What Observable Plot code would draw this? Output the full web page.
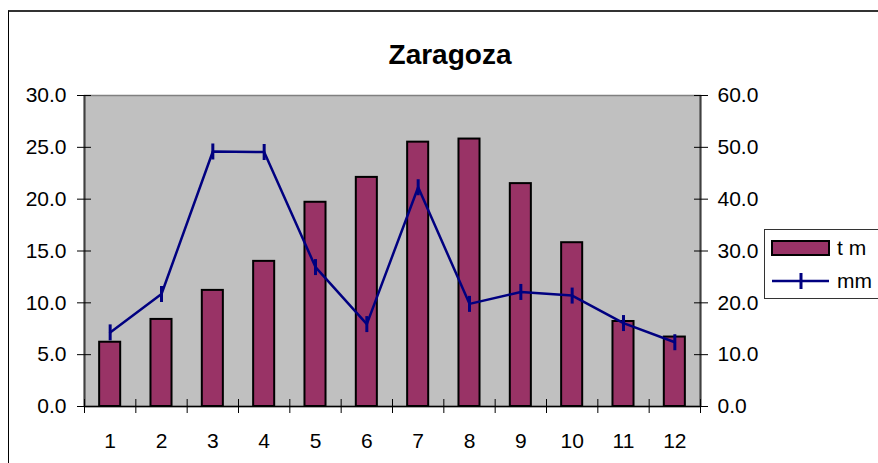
<!DOCTYPE html>
<html>
<head>
<meta charset="utf-8">
<script src="https://cdn.jsdelivr.net/npm/d3@7"></script>
<script src="https://cdn.jsdelivr.net/npm/@observablehq/plot@0.6"></script>
<style>
  html, body { margin: 0; padding: 0; background: #fff; }
  #wrap { position: relative; width: 878px; height: 463px; overflow: hidden; font-family: "Liberation Sans", Arial, sans-serif; }
  #outer { position: absolute; left: 8px; top: 10px; width: 900px; height: 500px; border-left: 1px solid #000; border-top: 2px solid #333; box-sizing: border-box; }
  #title { position: absolute; left: 0; width: 900px; top: 41px; text-align: center; font-size: 28px; font-weight: bold; line-height: 1; color: #000; }
  #chart { position: absolute; left: 0; top: 0; }
  #legend { position: absolute; left: 764px; top: 229px; width: 140px; height: 70px; border: 1px solid #333; background: #fff; box-sizing: border-box; }
  .item { position: absolute; left: 6px; height: 20px; display: flex; align-items: center; font-size: 21px; color: #000; }
  .item svg { margin-right: 6px; }
</style>
</head>
<body>
<div id="wrap">
  <div id="outer"></div>
  <div id="chart"></div>
  <div id="title">Zaragoza</div>
  <div id="legend"></div>
</div>
<script>
const months = [1, 2, 3, 4, 5, 6, 7, 8, 9, 10, 11, 12];
const tempC = [6.2, 8.4, 11.2, 14.0, 19.7, 22.1, 25.5, 25.8, 21.5, 15.8, 8.2, 6.7];
const precipMM = [14.3, 21.7, 49.2, 49.1, 26.9, 15.9, 42.3, 19.8, 22.1, 21.4, 16.1, 12.4];
const leftTicks = [0, 5, 10, 15, 20, 25, 30];
const rightTicks = [0, 10, 20, 30, 40, 50, 60];
const seriesNames = ["t m", "mm"];

const barColor = "#993366";
const lineColor = "#000080";
const ratio = 2; // right axis (mm) = 2 x left axis

const rows = months.map((m, i) => ({m, t: tempC[i], p: precipMM[i]}));
const bounds = d3.range(months[0] - 0.5, months[months.length - 1] + 0.51, 1);
const halfBar = 0.205;

const tickSymbol = {
  draw(context) {
    context.moveTo(0, -8);
    context.lineTo(0, 8);
  }
};

const chart = Plot.plot({
  width: 878,
  height: 463,
  marginLeft: 84,
  marginRight: 178,
  marginTop: 95,
  marginBottom: 57,
  style: {fontFamily: "Liberation Sans, Arial, sans-serif", fontSize: "21px", background: "transparent", color: "#000"},
  x: {type: "linear", domain: [0.5, 12.5], axis: null},
  y: {domain: [0, 30], axis: null},
  marks: [
    Plot.frame({fill: "#C0C0C0", stroke: "#808080", strokeWidth: 1.5}),
    Plot.rect(rows, {x1: d => d.m - halfBar, x2: d => d.m + halfBar, y1: 0, y2: "t", fill: barColor, stroke: "#000", strokeWidth: 2}),
    Plot.line(rows, {x: "m", y: d => d.p / ratio, stroke: lineColor, strokeWidth: 2.5}),
    Plot.dot(rows, {x: "m", y: d => d.p / ratio, symbol: tickSymbol, stroke: lineColor, strokeWidth: 3, fill: "none"}),
    Plot.ruleY([0], {stroke: "#000", strokeWidth: 1.5}),
    Plot.ruleX([0.5], {stroke: "#404040", strokeWidth: 2}),
    Plot.ruleX([12.5], {stroke: "#404040", strokeWidth: 2}),
    // left axis
    Plot.axisY({ticks: leftTicks, anchor: "left", tickSize: 14, dx: 7, tickFormat: () => "", label: null, stroke: "#000"}),
    Plot.axisY({ticks: leftTicks, anchor: "left", tickSize: 0, tickPadding: 18, tickFormat: d => d.toFixed(1), label: null}),
    // right axis (mm)
    Plot.axisY({ticks: rightTicks.map(v => v / ratio), anchor: "right", tickSize: 14, dx: -7, tickFormat: () => "", label: null, stroke: "#000"}),
    Plot.axisY({ticks: rightTicks.map(v => v / ratio), anchor: "right", tickSize: 0, tickPadding: 17, tickFormat: d => (d * ratio).toFixed(1), label: null}),
    // bottom axis
    Plot.axisX({ticks: bounds, anchor: "bottom", tickSize: 14, dy: -7, tickFormat: () => "", label: null, stroke: "#000"}),
    Plot.axisX({ticks: months, anchor: "bottom", tickSize: 0, tickPadding: 27, tickFormat: d => String(d), label: null})
  ]
});
document.getElementById("chart").appendChild(chart);

// legend
const legend = document.getElementById("legend");
const item1 = document.createElement("div");
item1.className = "item";
item1.style.top = "8px";
item1.innerHTML = `<svg width="60" height="16"><rect x="1" y="1" width="57" height="14" fill="${barColor}" stroke="#000" stroke-width="2"/></svg><span>${seriesNames[0]}</span>`;
const item2 = document.createElement("div");
item2.className = "item";
item2.style.top = "41px";
item2.innerHTML = `<svg width="60" height="18"><line x1="1" x2="58" y1="9" y2="9" stroke="${lineColor}" stroke-width="2.5"/><line x1="30" x2="30" y1="1" y2="17" stroke="${lineColor}" stroke-width="3"/></svg><span>${seriesNames[1]}</span>`;
legend.appendChild(item1);
legend.appendChild(item2);
</script>
</body>
</html>
